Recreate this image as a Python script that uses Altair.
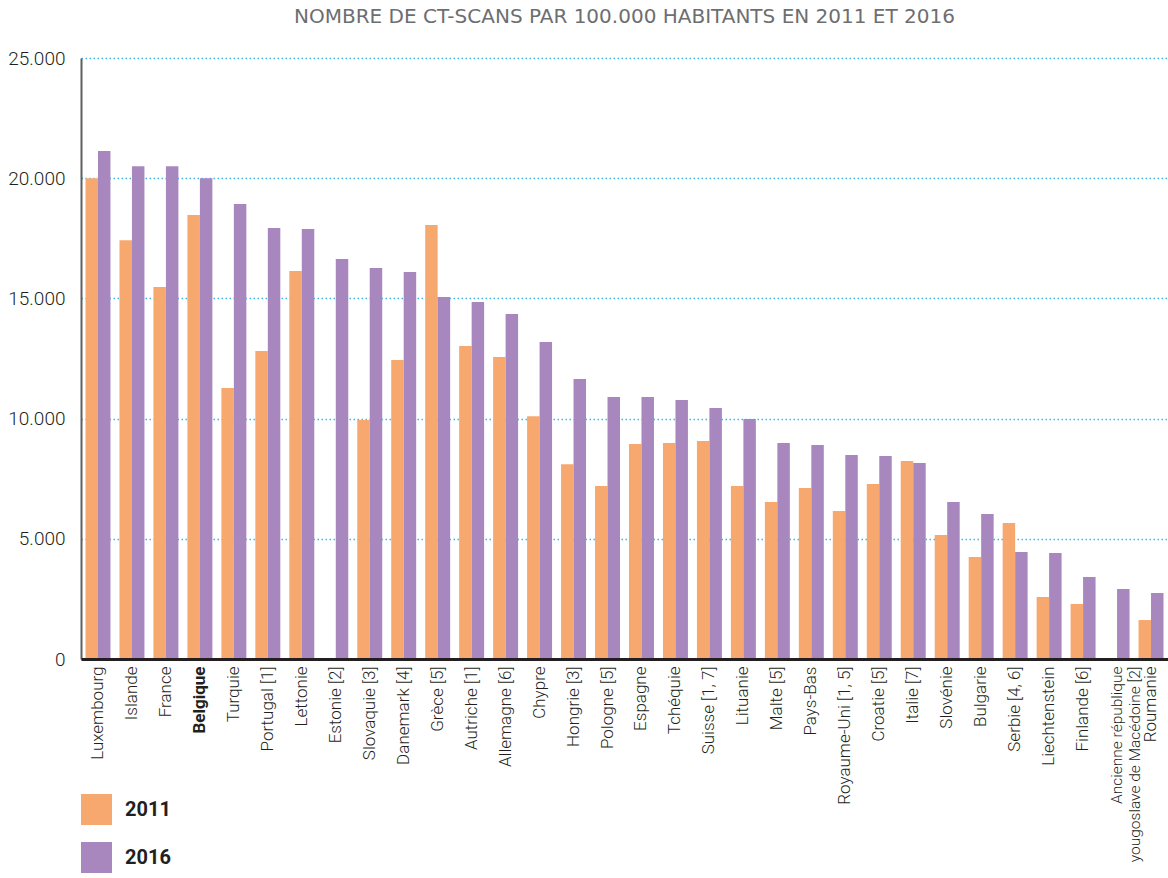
import altair as alt
import pandas as pd

# Countries in display order; "[n]" are footnote markers, "|" marks a line break
countries = [
    "Luxembourg", "Islande", "France", "Belgique", "Turquie", "Portugal [1]",
    "Lettonie", "Estonie [2]", "Slovaquie [3]", "Danemark [4]", "Grèce [5]",
    "Autriche [1]", "Allemagne [6]", "Chypre", "Hongrie [3]", "Pologne [5]",
    "Espagne", "Tchéquie", "Suisse [1, 7]", "Lituanie", "Malte [5]", "Pays-Bas",
    "Royaume-Uni [1, 5]", "Croatie [5]", "Italie [7]", "Slovénie", "Bulgarie",
    "Serbie [4, 6]", "Liechtenstein", "Finlande [6]",
    "Ancienne république|yougoslave de Macédoine [2]", "Roumanie",
]

# CT scans per 100 000 inhabitants (None = no data)
scans_2011 = [
    20000, 17420, 15470, 18470, 11270, 12810, 16140, None, 9940, 12440, 18050,
    13020, 12560, 10100, 8100, 7200, 8940, 8980, 9070, 7200, 6530, 7110,
    6160, 7280, 8240, 5160, 4240, 5660, 2580, 2290, None, 1620,
]
scans_2016 = [
    21130, 20500, 20500, 20000, 18930, 17930, 17890, 16640, 16260, 16100, 15060,
    14850, 14350, 13190, 11650, 10900, 10900, 10770, 10440, 9980, 8980, 8900,
    8490, 8440, 8150, 6530, 6030, 4450, 4410, 3410, 2910, 2750,
]

years = ["2011", "2016"]
colors = ["#F7A86F", "#A887BF"]

rows = []
for name, a, b in zip(countries, scans_2011, scans_2016):
    if a is not None:
        rows.append({"pays": name, "annee": "2011", "valeur": a})
    if b is not None:
        rows.append({"pays": name, "annee": "2016", "valeur": b})
df = pd.DataFrame(rows)

label_font = "Roboto"
ink = "#231f20"

chart = (
    alt.Chart(df)
    .mark_bar()
    .encode(
        x=alt.X(
            "pays:N",
            sort=countries,
            scale=alt.Scale(paddingInner=0.265, paddingOuter=0.1325),
            axis=alt.Axis(
                title=None,
                labelAngle=-90,
                labelAlign="right",
                labelBaseline="middle",
                labelFont=label_font,
                labelFontSize={
                    "condition": {"test": "indexof(datum.value, '|') >= 0", "value": 15.5},
                    "value": 17,
                },
                labelColor=ink,
                labelPadding=7,
                labelLimit=400,
                labelOverlap=False,
                labelExpr="split(datum.label, '|')",
                labelFontWeight={
                    "condition": {"test": "datum.value === 'Belgique'", "value": "bold"},
                    "value": 300,
                },
                ticks=False,
                domainColor=ink,
                domainWidth=3,
                zindex=1,
            ),
        ),
        xOffset=alt.XOffset("annee:N", sort=years),
        y=alt.Y(
            "valeur:Q",
            scale=alt.Scale(domain=[0, 25000], nice=False),
            axis=alt.Axis(
                title=None,
                values=[0, 5000, 10000, 15000, 20000, 25000],
                labelExpr="replace(format(datum.value, ','), ',', '.')",
                labelFont=label_font,
                labelFontSize=19,
                labelFontWeight=300,
                labelColor=ink,
                labelPadding=16,
                ticks=False,
                domainColor="#5f5f5f",
                domainWidth=2,
                gridColor="#3cb6e3",
                gridDash=[1.5, 2.5],
                gridWidth=1.5,
            ),
        ),
        color=alt.Color(
            "annee:N",
            scale=alt.Scale(domain=years, range=colors),
            legend=alt.Legend(
                title=None,
                orient="none",
                legendX=0,
                legendY=736,
                direction="vertical",
                symbolType="square",
                symbolSize=961,
                symbolStrokeWidth=0,
                symbolOpacity=1,
                labelFont=label_font,
                labelFontSize=20,
                labelFontWeight="bold",
                labelColor=ink,
                labelOffset=13,
                rowPadding=17,
                padding=0,
            ),
        ),
    )
    .properties(
        width=1087,
        height=601,
        padding={"left": 81, "top": 58, "right": 0, "bottom": 219},
        autosize=alt.AutoSizeParams(type="none"),
        title=alt.Title(
            "NOMBRE DE CT-SCANS PAR 100.000 HABITANTS EN 2011 ET 2016",
            font="DejaVu Sans",
            fontSize=20,
            fontWeight="normal",
            color="#6d6e70",
            anchor="middle",
            offset=22,
        ),
    )
    .configure_view(stroke=None)
)

chart.save("out.html", embed_options={"renderer": "svg", "actions": False})
